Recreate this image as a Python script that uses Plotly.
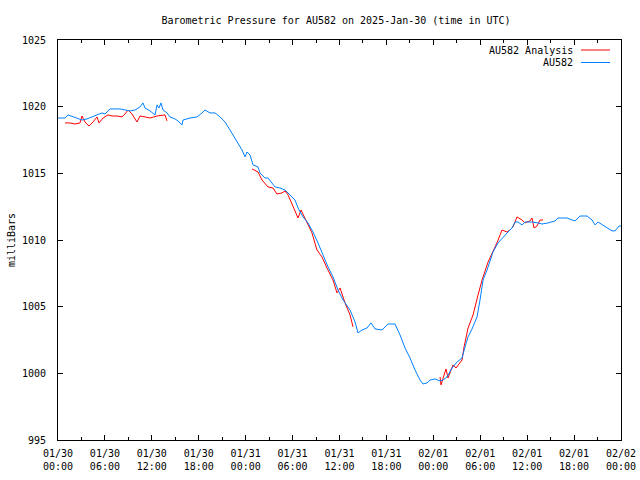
import pandas as pd
import plotly.graph_objects as go

START = pd.Timestamp("2025-01-30 00:00")

# AU582 observed pressure: hours since start, millibars
au582_hours = [0.0, 0.26, 0.9, 1.28, 1.92, 3.07, 3.71, 4.35, 4.99, 5.63, 6.01, 6.65, 7.93, 8.82,
               9.21, 9.85, 10.49, 10.87, 11.13, 11.77, 12.41, 12.66, 12.92, 13.17, 13.43, 13.94,
               14.32, 14.96, 15.35, 15.86, 15.99, 16.88, 17.78, 18.42, 18.8, 19.44, 20.08, 20.72,
               21.36, 22.0, 22.64, 23.02, 23.53, 23.92, 24.17, 24.56, 24.94, 25.58, 25.83, 26.47,
               26.86, 27.75, 28.39, 29.03, 29.67, 30.31, 30.7, 31.33, 31.97, 32.61, 33.25, 33.89,
               34.53, 35.17, 35.81, 36.45, 37.35, 37.99, 38.37, 38.88, 39.52, 40.03, 40.54, 41.44,
               42.21, 43.1, 43.74, 44.38, 45.02, 45.66, 46.3, 46.68, 47.2, 47.58, 48.22, 48.86,
               49.24, 49.75, 50.39, 51.03, 51.67, 52.05, 52.44, 52.95, 53.59, 53.97, 54.36, 54.87,
               55.63, 56.27, 56.91, 57.55, 58.06, 58.45, 58.83, 59.34, 59.73, 60.62, 61.39, 61.9,
               62.67, 63.56, 63.95, 65.1, 65.74, 66.12, 66.76, 67.66, 68.3, 68.68, 69.06, 69.96,
               70.85, 71.24, 71.75, 72.0]
au582_mb = [1019.15, 1019.15, 1019.15, 1019.38, 1019.23, 1019.0, 1019.08, 1019.23, 1019.38, 1019.53,
            1019.45, 1019.83, 1019.83, 1019.75, 1019.68, 1019.75, 1019.98, 1020.28, 1019.9, 1019.68,
            1019.38, 1020.13, 1019.9, 1020.28, 1019.75, 1019.53, 1019.23, 1019.08, 1018.93, 1018.63,
            1019.0, 1019.15, 1019.23, 1019.53, 1019.75, 1019.53, 1019.53, 1019.23, 1018.85, 1018.25,
            1017.65, 1017.28, 1016.75, 1016.23, 1016.6, 1016.38, 1015.63, 1015.48, 1015.03, 1014.65,
            1014.65, 1013.98, 1013.9, 1013.75, 1013.38, 1013.0, 1012.4, 1011.73, 1011.28, 1010.6,
            1009.78, 1008.88, 1007.98, 1007.23, 1006.25, 1005.5, 1004.75, 1003.85, 1003.03, 1003.25,
            1003.4, 1003.78, 1003.33, 1003.25, 1003.7, 1003.7, 1002.88, 1001.9, 1001.15, 1000.25,
            999.5, 999.2, 999.28, 999.5, 999.58, 999.43, 999.5, 999.73, 1000.4, 1000.85, 1001.15,
            1001.98, 1002.73, 1003.33, 1004.23, 1005.5, 1007.0, 1007.75, 1009.1, 1009.78, 1010.23,
            1010.6, 1010.9, 1011.35, 1011.35, 1011.13, 1011.35, 1011.35, 1011.28, 1011.2, 1011.28,
            1011.43, 1011.65, 1011.65, 1011.5, 1011.43, 1011.8, 1011.8, 1011.5, 1011.13, 1011.35,
            1010.98, 1010.68, 1010.68, 1011.05, 1011.05]

# AU582 Analysis: three separate segments (None marks a gap)
analysis_hours = [0.9, 1.53, 2.17, 2.81, 3.07, 3.45, 3.96, 4.48, 4.99, 5.24, 5.76, 6.39, 6.91, 7.55,
                  8.19, 8.57, 8.95, 9.46, 10.1, 10.49, 11.13, 11.77, 12.66, 13.3, 13.68, 13.94, None,
                  24.81, 25.58, 26.09, 26.86, 27.5, 28.0, 28.65, 29.03, 29.42, 30.05, 30.7, 31.08,
                  31.85, 32.48, 33.12, 33.76, 34.4, 35.17, 35.68, 36.07, 36.71, 37.35, 37.73, None,
                  48.86, 48.98, 49.62, 49.88, 50.52, 50.9, 51.67, 51.93, 52.44, 53.08, 53.72, 54.23,
                  55.0, 55.63, 56.14, 56.78, 57.42, 57.81, 58.19, 58.7, 59.34, 59.73, 60.37, 60.62,
                  60.88, 61.26, 61.64, 62.03]
analysis_mb = [1018.78, 1018.78, 1018.7, 1018.78, 1019.3, 1018.85, 1018.55, 1018.85, 1019.23, 1018.78,
               1019.15, 1019.38, 1019.3, 1019.3, 1019.23, 1019.45, 1019.75, 1019.45, 1018.85, 1019.3,
               1019.23, 1019.15, 1019.3, 1019.38, 1019.38, 1018.93, None,
               1015.33, 1015.1, 1014.5, 1013.98, 1013.9, 1013.45, 1013.53, 1013.68, 1013.38, 1012.48,
               1011.65, 1012.25, 1011.28, 1010.53, 1009.25, 1008.73, 1007.9, 1007.0, 1006.03, 1006.4,
               1005.28, 1004.38, 1003.48, None,
               999.73, 999.13, 1000.33, 999.65, 1000.63, 1000.4, 1001.0, 1001.98, 1003.4, 1004.38,
               1005.88, 1007.0, 1008.35, 1009.1, 1009.78, 1010.75, 1010.6, 1010.75, 1010.98, 1011.73,
               1011.5, 1011.28, 1011.43, 1011.65, 1010.9, 1011.05, 1011.5, 1011.5]

tick_hours = [0, 6, 12, 18, 24, 30, 36, 42, 48, 54, 60, 66, 72]
tick_labels = ["01/30<br>00:00", "01/30<br>06:00", "01/30<br>12:00", "01/30<br>18:00",
               "01/31<br>00:00", "01/31<br>06:00", "01/31<br>12:00", "01/31<br>18:00",
               "02/01<br>00:00", "02/01<br>06:00", "02/01<br>12:00", "02/01<br>18:00",
               "02/02<br>00:00"]
y_ticks = [995, 1000, 1005, 1010, 1015, 1020, 1025]

series_names = ["AU582 Analysis", "AU582"]
series_colors = ["#ff0000", "#0080ff"]


def to_time(hours):
    return [None if h is None else START + pd.Timedelta(hours=h) for h in hours]


FONT = "DejaVu Sans Mono"
FS = 10
W, H = 640, 480
PL, PR, PT, PB = 58, 621, 40, 440  # plot box in window pixels

fig = go.Figure()
fig.add_trace(go.Scatter(x=to_time(analysis_hours), y=analysis_mb, mode="lines",
                         name=series_names[0], line=dict(color=series_colors[0], width=1),
                         connectgaps=False, showlegend=False))
fig.add_trace(go.Scatter(x=to_time(au582_hours), y=au582_mb, mode="lines",
                         name=series_names[1], line=dict(color=series_colors[1], width=1),
                         showlegend=False))

# gnuplot-style key: text right-aligned, line sample to its right
pw, ph = PR - PL, PB - PT
for i, (name, col) in enumerate(zip(series_names, series_colors)):
    ytop = 1 - (10 + 12.5 * i) / ph
    fig.add_annotation(xref="paper", yref="paper", x=(575 - PL) / pw, y=ytop,
                       xanchor="right", yanchor="middle", text=name, showarrow=False,
                       font=dict(family=FONT, size=FS, color="black"))
    fig.add_shape(type="line", xref="paper", yref="paper",
                  x0=(581 - PL) / pw, x1=(610 - PL) / pw, y0=ytop, y1=ytop,
                  line=dict(color=col, width=1))

fig.update_layout(
    width=W, height=H,
    margin=dict(l=PL, r=W - PR, t=PT, b=H - PB, pad=0),
    paper_bgcolor="white", plot_bgcolor="white",
    font=dict(family=FONT, size=FS, color="black"),
    title=dict(text="Barometric Pressure for AU582 on 2025-Jan-30 (time in UTC)",
               x=336 / W, xanchor="center", xref="container",
               y=1 - 20 / H, yanchor="middle", yref="container",
               automargin=False,
               font=dict(family=FONT, size=FS, color="black")),
    xaxis=dict(
        range=[START, START + pd.Timedelta(hours=72)],
        tickvals=to_time(tick_hours), ticktext=tick_labels,
        ticks="inside", ticklen=5, tickcolor="black", tickwidth=1,
        minor=dict(dtick=3 * 3600 * 1000, ticks="inside", ticklen=3, tickcolor="black",
                   showgrid=False),
        showline=True, linecolor="black", linewidth=1, mirror="allticks",
        showgrid=False, zeroline=False, automargin=False,
        ticklabelstandoff=4, ticklabeloverflow="allow",
        tickfont=dict(family=FONT, size=FS, color="black"),
    ),
    yaxis=dict(
        range=[995, 1025], tickvals=y_ticks,
        ticks="inside", ticklen=5, tickcolor="black", tickwidth=1,
        showline=True, linecolor="black", linewidth=1, mirror="allticks",
        showgrid=False, zeroline=False, automargin=False,
        ticklabelstandoff=9,
        tickfont=dict(family=FONT, size=FS, color="black"),
        title=dict(text="milliBars", standoff=4,
                   font=dict(family=FONT, size=FS, color="black")),
    ),
)

# remove the page's default body margin so the 640x480 figure fills the window exactly
fig.write_html("out.html",
               config={"displayModeBar": False},
               post_script="document.body.style.margin='0';document.body.style.overflow='hidden';")
